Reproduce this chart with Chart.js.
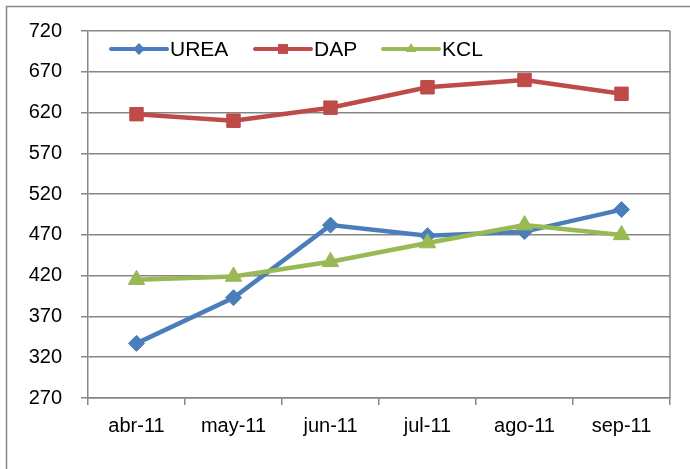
<!DOCTYPE html>
<html>
<head>
<meta charset="utf-8">
<script src="https://cdn.jsdelivr.net/npm/chart.js@4"></script>
<style>
  body { margin: 0; background: #fff; }
  canvas { display: block; }
</style>
</head>
<body>
<canvas id="grafico" width="690" height="469"></canvas>
<script>
// datos
const meses = ['abr-11', 'may-11', 'jun-11', 'jul-11', 'ago-11', 'sep-11'];
const urea = [337, 393, 482, 469, 474, 501];
const dap = [618, 610, 626, 651, 660, 643];
const kcl = [415, 419, 437, 460, 482, 470];
const ejeY = { min: 270, max: 720, paso: 50 };

const gris = '#868686';
const fuente = { family: '"Liberation Sans", Arial, sans-serif', size: 20 };

// marco exterior, borde derecho del área y leyenda dibujada a mano
const marco = {
  id: 'marco',
  beforeDraw(chart) {
    const ctx = chart.ctx;
    ctx.save();
    ctx.strokeStyle = gris;
    ctx.lineWidth = 1.5;
    ctx.strokeRect(6.5, 6.5, 720, 520);
    ctx.restore();
  },
  afterDraw(chart) {
    const ctx = chart.ctx;
    const a = chart.chartArea;
    ctx.save();
    ctx.strokeStyle = gris;
    ctx.lineWidth = 1.5;
    ctx.beginPath();
    ctx.moveTo(a.right, a.top);
    ctx.lineTo(a.right, a.bottom);
    ctx.stroke();

    // leyenda
    const posX = [111, 255, 383];
    const y = 49;
    ctx.font = '21px ' + fuente.family;
    ctx.textBaseline = 'middle';
    ctx.fillStyle = '#000';
    chart.data.datasets.forEach((ds, i) => {
      const x0 = posX[i];
      ctx.strokeStyle = ds.borderColor;
      ctx.lineWidth = 4;
      ctx.lineCap = 'round';
      ctx.beginPath();
      ctx.moveTo(x0, y);
      ctx.lineTo(x0 + 56, y);
      ctx.stroke();
      ctx.fillStyle = ds.borderColor;
      Chart.helpers.drawPoint(ctx, { pointStyle: ds.pointStyle, radius: ds.pointStyle === 'rect' ? 7 : 6, borderWidth: 0 }, x0 + 28, y);
      ctx.fillStyle = '#000';
      ctx.fillText(ds.label, x0 + 59, y + 1);
    });
    ctx.restore();
  }
};

const ctx = document.getElementById('grafico').getContext('2d');
new Chart(ctx, {
  type: 'line',
  data: {
    labels: meses,
    datasets: [
      { label: 'UREA', data: urea, borderColor: '#4A7EBB', backgroundColor: '#4A7EBB', pointStyle: 'rectRot', pointRadius: 8, pointBorderWidth: 1, borderWidth: 4.5, order: 2 },
      { label: 'DAP', data: dap, borderColor: '#BE4B48', backgroundColor: '#BE4B48', pointStyle: 'rect', pointRadius: 9.5, pointBorderWidth: 1, borderWidth: 4.5, order: 1 },
      { label: 'KCL', data: kcl, borderColor: '#98B954', backgroundColor: '#98B954', pointStyle: 'triangle', pointRadius: 9.5, pointBorderWidth: 1, borderWidth: 4.5, order: 0 }
    ]
  },
  options: {
    responsive: false,
    animation: false,
    layout: { padding: { top: 29, right: 20, left: 0, bottom: 0 } },
    plugins: { legend: { display: false }, tooltip: { enabled: false } },
    scales: {
      x: {
        offset: true,
        grid: { drawOnChartArea: false, offset: true, color: gris, tickLength: 7, lineWidth: 1.5 },
        border: { color: gris, width: 1.5 },
        ticks: { color: '#000', font: fuente, padding: 9, maxRotation: 0 },
        afterFit(scale) { scale.height = 71; }
      },
      y: {
        min: ejeY.min,
        max: ejeY.max,
        grid: { color: gris, tickLength: 7, lineWidth: 1.5 },
        border: { color: gris, width: 1.5 },
        ticks: { stepSize: ejeY.paso, color: '#000', font: fuente, padding: 19 },
        afterFit(scale) { scale.width = 88; }
      }
    }
  },
  plugins: [marco]
});
</script>
</body>
</html>
